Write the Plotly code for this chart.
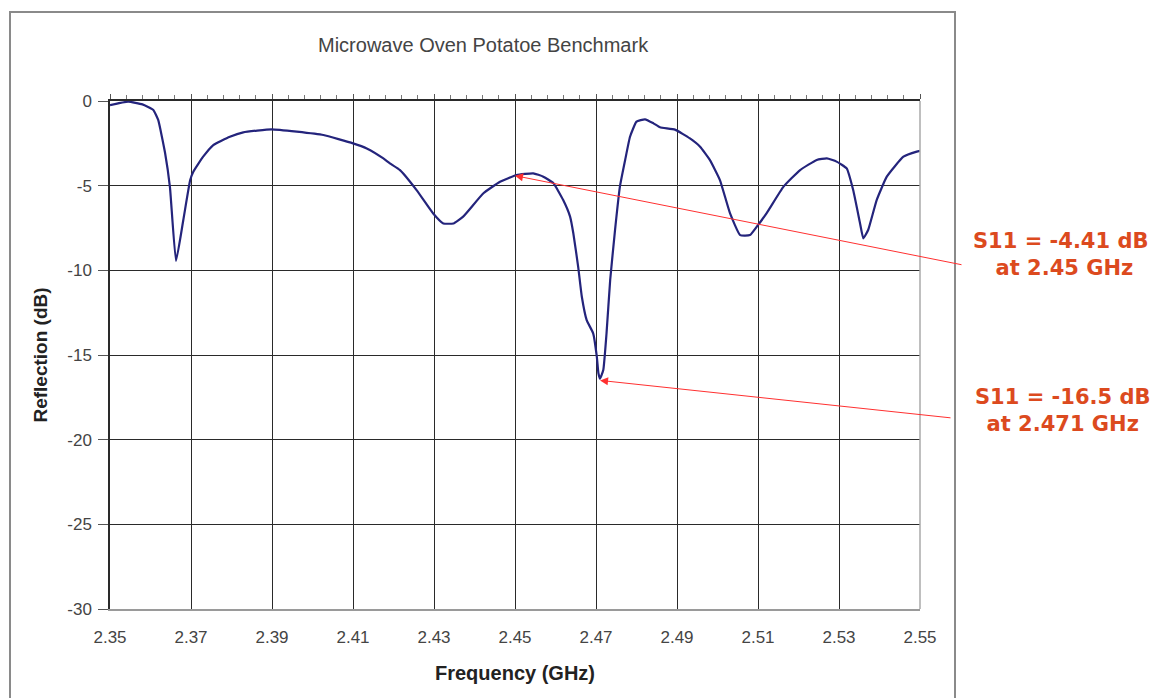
import plotly.graph_objects as go

# ---- data ----
freq_ghz = [2.3500, 2.3545, 2.3580, 2.3607, 2.3619, 2.3636, 2.3648, 2.3663, 2.3681, 2.3698,
            2.3706, 2.3730, 2.3755, 2.3796, 2.3829, 2.3899, 2.3961, 2.4027, 2.4100, 2.4134,
            2.4175, 2.4191, 2.4216, 2.4257, 2.4298, 2.4323, 2.4348, 2.4372, 2.4422, 2.4463,
            2.4504, 2.4545, 2.4570, 2.4595, 2.4619, 2.4636, 2.4644, 2.4656, 2.4665, 2.4677,
            2.4693, 2.4702, 2.4706, 2.4710, 2.4718, 2.4726, 2.4735, 2.4747, 2.4759, 2.4772,
            2.4784, 2.4800, 2.4821, 2.4842, 2.4858, 2.4895, 2.4932, 2.4957, 2.4981, 2.5006,
            2.5031, 2.5056, 2.5080, 2.5097, 2.5121, 2.5163, 2.5204, 2.5245, 2.5270, 2.5294,
            2.5319, 2.5335, 2.5352, 2.5360, 2.5372, 2.5393, 2.5418, 2.5459, 2.5492, 2.5500]
reflection_db = [-0.24, -0.04, -0.20, -0.53, -1.12, -3.07, -5.08, -9.45, -7.03, -4.67,
                 -4.17, -3.29, -2.60, -2.11, -1.85, -1.67, -1.81, -2.01, -2.50, -2.80,
                 -3.39, -3.68, -4.08, -5.26, -6.64, -7.23, -7.23, -6.83, -5.45, -4.77,
                 -4.37, -4.27, -4.47, -4.86, -5.85, -6.83, -7.81, -9.79, -11.56, -12.94,
                 -13.72, -15.10, -16.08, -16.40, -15.89, -13.72, -10.57, -7.62, -5.06, -3.48,
                 -2.11, -1.22, -1.08, -1.32, -1.55, -1.69, -2.21, -2.70, -3.48, -4.67,
                 -6.64, -7.92, -7.92, -7.42, -6.64, -5.06, -4.08, -3.48, -3.39, -3.58,
                 -3.98, -5.26, -7.23, -8.11, -7.62, -5.85, -4.47, -3.29, -2.99, -2.95]

x_ticks = [2.35, 2.37, 2.39, 2.41, 2.43, 2.45, 2.47, 2.49, 2.51, 2.53, 2.55]
y_ticks = [0, -5, -10, -15, -20, -25, -30]

marker_freqs = [2.45, 2.471]
marker_dbs = [-4.41, -16.5]
marker_texts = ["S11 = -4.41 dB<br> at 2.45 GHz", "S11 = -16.5 dB<br>at 2.471 GHz"]

title_text = "Microwave Oven Potatoe Benchmark"
x_title = "Frequency (GHz)"
y_title = "Reflection (dB)"

# ---- figure geometry (page pixels; the page body adds an 8 px offset) ----
OFF = 8
W, H = 1159, 698
PL, PR, PT, PB = 110, 920, 101, 609           # plot area in page pixels
L, T = PL - OFF, PT - OFF
R, B = W - (PR - OFF), H - (PB - OFF)
pw, ph = PR - PL, PB - PT

def px(xp):
    return (xp - PL) / pw

def py(yp):
    return (PB - yp) / ph

fig = go.Figure()
fig.add_trace(go.Scatter(
    x=freq_ghz, y=reflection_db, mode="lines",
    line=dict(color="#24247c", width=2.2, shape="spline", smoothing=0.4),
    showlegend=False, hoverinfo="skip"))

# top axis carrying the minor ticks (Excel axis crossing at 0)
fig.add_trace(go.Scatter(x=[x_ticks[0], x_ticks[-1]], y=[0, 0], xaxis="x2",
                         mode="lines", line=dict(width=0), showlegend=False,
                         hoverinfo="skip"))

tick_font = dict(family="Liberation Sans, Arial", size=17, color="#444444")
axis_title_font = dict(family="Liberation Sans, Arial", size=20, color="#222222")

fig.update_layout(
    width=W, height=H,
    margin=dict(l=L, r=R, t=T, b=B),
    paper_bgcolor="white", plot_bgcolor="white",
    font=dict(family="Liberation Sans, Arial", color="#333333"),
    xaxis=dict(range=[2.35, 2.55], tickvals=x_ticks,
               ticktext=[f"{v:.2f}" for v in x_ticks],
               showgrid=True, gridcolor="#2a2a2a", gridwidth=1,
               showline=True, linecolor="#9a9a9a", linewidth=1.5, mirror=False,
               ticks="", tickfont=tick_font, zeroline=False, ticklabelstandoff=12,
               title=dict(text=f"<b>{x_title}</b>", standoff=20, font=axis_title_font)),
    xaxis2=dict(range=[2.35, 2.55], overlaying="x", side="top", anchor="y",
                tickvals=x_ticks, showticklabels=False, showgrid=False,
                showline=True, linecolor="#2a2a2a", linewidth=1.5,
                ticks="outside", ticklen=5, tickcolor="#555555",
                minor=dict(dtick=0.004, tick0=2.35, ticks="outside", ticklen=4,
                           tickcolor="#777777", showgrid=False),
                zeroline=False),
    yaxis=dict(range=[-30, 0], tickvals=y_ticks,
               ticktext=[str(v) for v in y_ticks],
               showgrid=True, gridcolor="#2a2a2a", gridwidth=1,
               showline=True, linecolor="#2a2a2a", linewidth=1.5,
               ticks="outside", ticklen=10, tickcolor="#555555",
               tickfont=tick_font, zeroline=False, ticklabelstandoff=3,
               title=dict(text=f"<b>{y_title}</b>", standoff=15,
                          font=dict(family="Liberation Sans, Arial", size=19, color="#222222"))),
)

# right / plot-area border (light gray)
fig.add_shape(type="line", xref="paper", yref="paper", x0=1, x1=1, y0=0, y1=1,
              line=dict(color="#aaaaaa", width=1.5))
# outer chart frame
fig.add_shape(type="rect", xref="paper", yref="paper",
              x0=px(10), x1=px(955), y0=py(710), y1=py(12),
              line=dict(color="#8a8a8a", width=2), layer="below")

# title
fig.add_annotation(text=title_text, xref="paper", yref="paper",
                   x=px(483), y=py(45), xanchor="center", yanchor="middle",
                   showarrow=False,
                   font=dict(family="Liberation Sans, Arial", size=20, color="#444444"))

# marker annotations with arrows
arrow_tails = [(963, 265), (952, 418)]
text_pos = [(1060, 254), (1062, 410)]
for f, d, t, (tx, ty), (lx, ly) in zip(marker_freqs, marker_dbs, marker_texts, arrow_tails, text_pos):
    head_x = PL + (f - 2.35) / 0.2 * pw
    head_y = PT + (-d) / 30 * ph
    fig.add_annotation(x=f, y=d, xref="x", yref="y", text="",
                       showarrow=True, arrowhead=2, arrowsize=1.6, arrowwidth=1,
                       arrowcolor="#ff3030", ax=tx - head_x, ay=ty - head_y)
    fig.add_annotation(text=f"<b>{t}</b>", xref="paper", yref="paper",
                       x=px(lx), y=py(ly), xanchor="center", yanchor="middle",
                       showarrow=False, align="center",
                       font=dict(family="DejaVu Sans, Liberation Sans", size=21, color="#dc4a1e"))

fig.write_html("out.html")
